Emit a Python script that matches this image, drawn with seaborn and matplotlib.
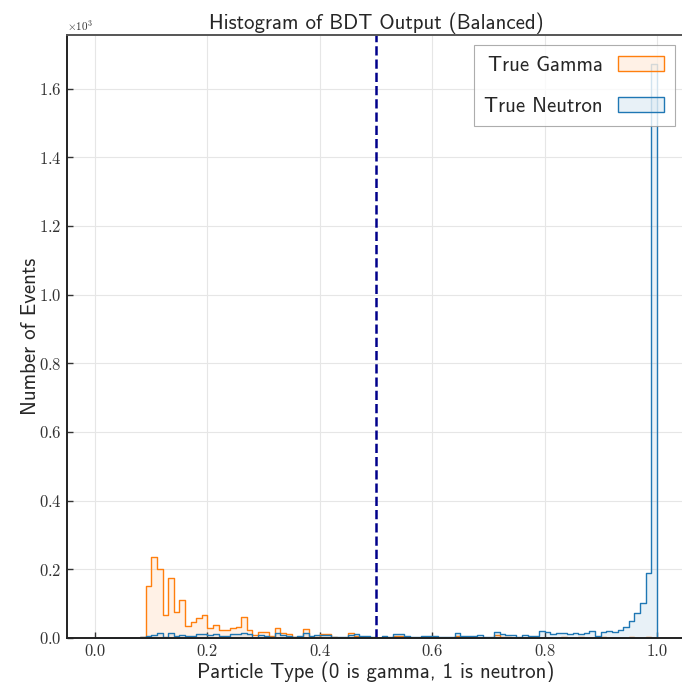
import numpy as np
import pandas as pd
import matplotlib
matplotlib.use("Agg")
import matplotlib.pyplot as plt
import seaborn as sns
from matplotlib.patches import Patch
from matplotlib.colors import to_rgba

# ---- data (counts per 0.01-wide bin, 0.00 .. 1.00) ----
bin_edges = [round(i * 0.01, 2) for i in range(101)]

gamma_counts = [
    0, 0, 0, 0, 0, 0, 0, 0, 2, 151,
    235, 200, 66, 176, 75, 111, 35, 48, 57, 67,
    28, 38, 23, 22, 28, 31, 60, 22, 8, 17,
    18, 6, 28, 16, 13, 4, 3, 25, 3, 2,
    12, 12, 2, 0, 1, 16, 6, 2, 1, 1,
    0, 1, 0, 7, 7, 1, 0, 1, 0, 0,
    2, 0, 1, 0, 6, 2, 0, 1, 0, 0,
    1, 9, 4, 4, 0, 1, 0, 0, 0, 0,
    0, 0, 0, 2, 0, 0, 2, 0, 0, 2,
    2, 0, 0, 0, 0, 2, 0, 0, 2, 0,
]

neutron_counts = [
    0, 0, 0, 0, 0, 0, 0, 0, 2, 6,
    9, 15, 4, 15, 6, 9, 6, 6, 12, 12,
    9, 12, 6, 6, 13, 13, 16, 13, 1, 10,
    6, 2, 14, 10, 6, 2, 6, 16, 6, 8,
    10, 10, 2, 2, 4, 10, 11, 6, 6, 2,
    1, 7, 2, 11, 11, 6, 2, 2, 7, 7,
    7, 2, 2, 2, 14, 7, 7, 7, 10, 2,
    2, 18, 11, 8, 8, 4, 9, 6, 6, 19,
    17, 12, 14, 14, 12, 14, 12, 16, 19, 6,
    17, 20, 17, 23, 33, 50, 72, 103, 190, 1673,
]

series_labels = ["True Gamma", "True Neutron"]
x_ticks = [0.0, 0.2, 0.4, 0.6, 0.8, 1.0]
y_ticks = [0, 200, 400, 600, 800, 1000, 1200, 1400, 1600]
threshold = 0.5

edges_arr = np.array(bin_edges)
centers = (edges_arr[:-1] + edges_arr[1:]) / 2
df_g = pd.DataFrame({"score": centers, "count": np.array(gamma_counts, dtype=float)})
df_n = pd.DataFrame({"score": centers, "count": np.array(neutron_counts, dtype=float)})

# ---- style ----
sns.set_style("ticks")
plt.rcParams["font.family"] = ["cmr10", "DejaVu Serif"]
plt.rcParams["mathtext.fontset"] = "cm"
plt.rcParams["axes.formatter.use_mathtext"] = True
plt.rcParams["axes.unicode_minus"] = False

SANS = ["cmss10", "DejaVu Sans"]
c_gamma = "#ff7f0e"
c_neut = "#1f77b4"

fig = plt.figure(figsize=(6.82, 6.82), dpi=100)
ax = fig.add_axes([67 / 682, 1 - 638 / 682, 618 / 682, 603 / 682])

sns.histplot(data=df_g, x="score", weights="count", bins=bin_edges,
             element="step", fill=True, alpha=0.1, color=c_gamma,
             linewidth=1.0, ax=ax)
sns.histplot(data=df_n, x="score", weights="count", bins=bin_edges,
             element="step", fill=True, alpha=0.1, color=c_neut,
             linewidth=1.0, ax=ax)

ax.axvline(threshold, color="#00008b", linestyle="--", linewidth=1.8, dashes=(3.7, 1.6))

ax.set_xlim(-0.05, 1.05)
ax.set_ylim(0, 1756)
ax.set_xticks(x_ticks)
ax.set_xticklabels([f"{t:.1f}" for t in x_ticks])
ax.set_yticks(y_ticks)
ax.ticklabel_format(style="sci", axis="y", scilimits=(0, 0), useMathText=True)
ax.yaxis.get_offset_text().set_fontsize(8)

ax.tick_params(direction="in", length=4, width=1, labelsize=12, colors="#333333", pad=4)
ax.grid(True, color="#e6e6e6", linewidth=0.8)
ax.set_axisbelow(True)
for s in ["left", "bottom"]:
    ax.spines[s].set_color("#222222")
    ax.spines[s].set_linewidth(1.4)
ax.spines["top"].set_color("#555555")
ax.spines["top"].set_linewidth(1.4)

ax.set_title("Histogram of BDT Output (Balanced)", fontsize=15, family=SANS, pad=4)
ax.set_xlabel("Particle Type (0 is gamma, 1 is neutron)", fontsize=15, family=SANS,
              labelpad=2)
ax.set_ylabel("Number of Events", fontsize=15, family=SANS, labelpad=-1)

handles = [
    Patch(facecolor=to_rgba(c_gamma, 0.1), edgecolor=c_gamma, linewidth=1.0),
    Patch(facecolor=to_rgba(c_neut, 0.1), edgecolor=c_neut, linewidth=1.0),
]
leg = ax.legend(handles, series_labels, loc="upper right",
                markerfirst=False, fancybox=False, framealpha=0.8,
                edgecolor="#999999", prop={"family": SANS, "size": 15},
                handlelength=2.2, handleheight=0.75, handletextpad=0.75,
                labelspacing=1.05, borderpad=0.5)
leg.get_frame().set_linewidth(0.8)

fig.savefig("out.png", dpi=100)
